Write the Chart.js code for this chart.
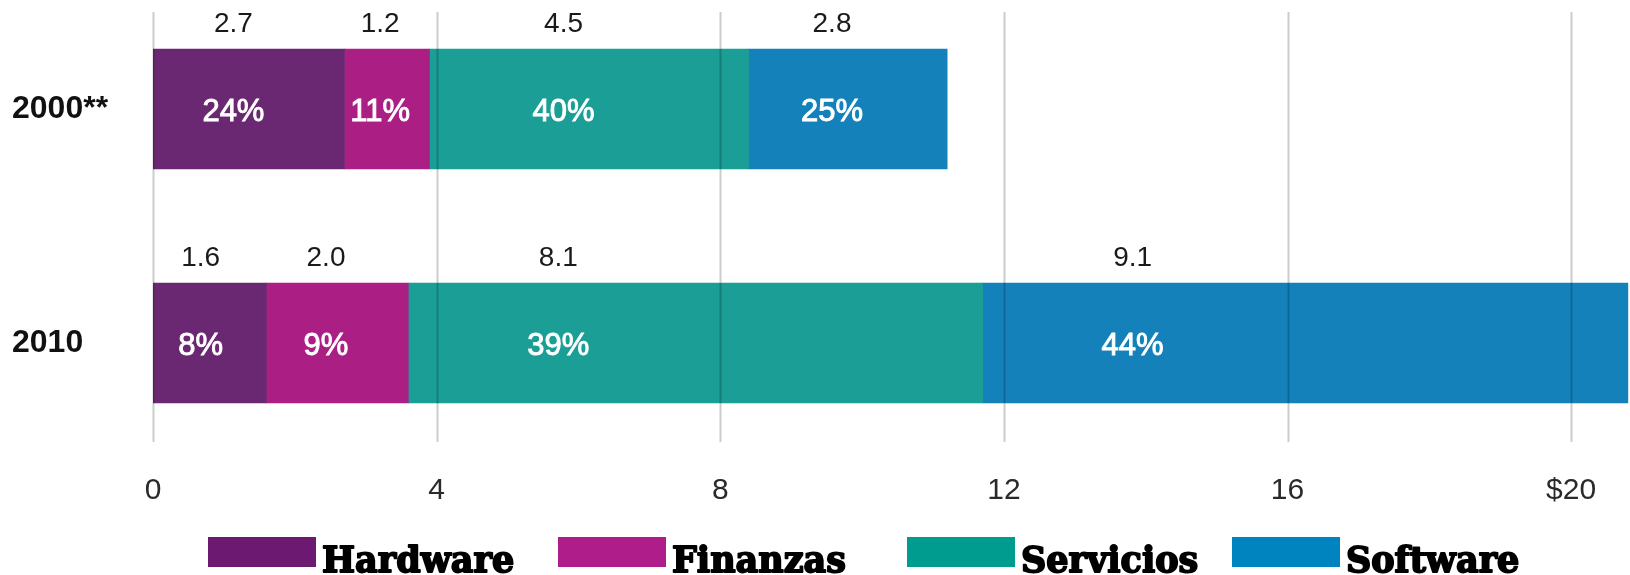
<!DOCTYPE html>
<html>
<head>
<meta charset="utf-8">
<script src="https://cdn.jsdelivr.net/npm/chart.js@4"></script>
<style>
  html, body { margin: 0; padding: 0; background: #fff; overflow: hidden; }
  #wrap { position: relative; width: 1630px; height: 575px; overflow: hidden; }
  #inner { position: absolute; left: 0; top: -8px; width: 1630px; height: 583px; }
</style>
</head>
<body>
<div id="wrap"><div id="inner"><canvas id="chartCanvas"></canvas></div></div>
<script>
// chart data
var categories = ['2000**', '2010'];
var seriesNames = ['Hardware', 'Finanzas', 'Servicios', 'Software'];
var hardware = [2.7, 1.6];
var finanzas = [1.2, 2.0];
var servicios = [4.5, 8.1];
var software = [2.8, 9.1];
var hardwarePct = ['24%', '8%'];
var finanzasPct = ['11%', '9%'];
var serviciosPct = ['40%', '39%'];
var softwarePct = ['25%', '44%'];
var tickValues = [0, 4, 8, 12, 16, 20];
var tickLabels = ['0', '4', '8', '12', '16', '$20'];

var barColors = ['#6b2872', '#ab1f85', '#1a9e95', '#1581ba'];
var legendColors = ['#6c1a71', '#ae1d89', '#009c90', '#0084bf'];

var seriesValues = [hardware, finanzas, servicios, software];
var seriesPct = [hardwarePct, finanzasPct, serviciosPct, softwarePct];

// gridlines drawn over the bars, a bit shorter than the plot area
var gridPlugin = {
  id: 'overGrid',
  afterDatasetsDraw: function (chart) {
    var ctx = chart.ctx;
    var area = chart.chartArea;
    var xs = chart.scales.x;
    ctx.save();
    ctx.strokeStyle = 'rgba(0,0,0,0.2)';
    ctx.lineWidth = 2;
    tickValues.forEach(function (v) {
      var px = Math.round(xs.getPixelForValue(v)) + 0.5;
      ctx.beginPath();
      ctx.moveTo(px, area.top + 20);
      ctx.lineTo(px, area.bottom - 18);
      ctx.stroke();
    });
    ctx.restore();
  }
};

// value above each segment, share inside it
var labelPlugin = {
  id: 'segLabels',
  afterDraw: function (chart) {
    var ctx = chart.ctx;
    ctx.save();
    ctx.textAlign = 'center';
    ctx.textBaseline = 'middle';
    chart.data.datasets.forEach(function (ds, d) {
      var meta = chart.getDatasetMeta(d);
      meta.data.forEach(function (bar, i) {
        var start = Math.min(bar.base, bar.x);
        var w = Math.abs(bar.x - bar.base);
        var cx = start + Math.min(0.42 * w, 150);
        var top = bar.y - bar.height / 2;
        ctx.fillStyle = '#1a1a1a';
        ctx.font = '28px "Liberation Sans", Arial, sans-serif';
        ctx.fillText(ds.data[i].toFixed(1), cx, top - 25);
        ctx.fillStyle = '#ffffff';
        ctx.strokeStyle = '#ffffff';
        ctx.lineWidth = 0.9;
        ctx.font = '31px "Liberation Sans", Arial, sans-serif';
        ctx.fillText(seriesPct[d][i], cx, bar.y + 3);
        ctx.strokeText(seriesPct[d][i], cx, bar.y + 3);
      });
    });
    ctx.restore();
  }
};

// legend row at the bottom
var legendPlugin = {
  id: 'bottomLegend',
  afterDraw: function (chart, args, opts) {
    var ctx = chart.ctx;
    ctx.save();
    ctx.textAlign = 'left';
    ctx.textBaseline = 'alphabetic';
    ctx.font = 'bold 35px "DejaVu Serif", serif';
    ctx.lineWidth = 1.8;
    ctx.lineJoin = 'round';
    seriesNames.forEach(function (name, i) {
      var x = opts.starts[i];
      ctx.fillStyle = legendColors[i];
      ctx.fillRect(x, opts.boxTop, opts.boxWidth, opts.boxHeight);
      ctx.fillStyle = '#000';
      ctx.strokeStyle = '#000';
      ctx.fillText(name, x + opts.boxWidth + 6, opts.baseline);
      ctx.strokeText(name, x + opts.boxWidth + 6, opts.baseline);
    });
    ctx.restore();
  }
};

var ctx = document.getElementById('chartCanvas').getContext('2d');
new Chart(ctx, {
  type: 'bar',
  data: {
    labels: categories,
    datasets: seriesNames.map(function (name, i) {
      return {
        label: name,
        data: seriesValues[i],
        backgroundColor: barColors[i],
        borderWidth: 0,
        barThickness: 120
      };
    })
  },
  options: {
    indexAxis: 'y',
    responsive: true,
    maintainAspectRatio: false,
    animation: false,
    layout: { padding: { left: 12, top: 0, right: 0, bottom: 53 } },
    plugins: {
      legend: { display: false },
      tooltip: { enabled: false },
      bottomLegend: {
        starts: [208, 558, 907, 1232],
        boxTop: 545,
        boxWidth: 108,
        boxHeight: 30,
        baseline: 580
      }
    },
    scales: {
      x: {
        type: 'linear',
        stacked: true,
        min: 0,
        max: 20.83,
        grid: { display: false, drawTicks: false },
        border: { display: false },
        afterBuildTicks: function (scale) {
          scale.ticks = tickValues.map(function (v) { return { value: v }; });
        },
        ticks: {
          padding: 13,
          color: '#2a2a2a',
          font: { family: '"Liberation Sans", Arial, sans-serif', size: 30 },
          maxRotation: 0,
          autoSkip: false,
          callback: function (value) {
            var idx = tickValues.indexOf(value);
            return idx >= 0 ? tickLabels[idx] : '';
          }
        }
      },
      y: {
        type: 'category',
        stacked: true,
        offset: true,
        grid: { display: false, drawTicks: false },
        border: { display: false },
        afterFit: function (scale) { scale.width = 141; },
        ticks: {
          crossAlign: 'far',
          padding: -12,
          color: '#111',
          font: { family: '"Liberation Sans", Arial, sans-serif', size: 32, weight: 'bold', lineHeight: 0.1 }
        }
      }
    }
  },
  plugins: [gridPlugin, labelPlugin, legendPlugin]
});
</script>
</body>
</html>
